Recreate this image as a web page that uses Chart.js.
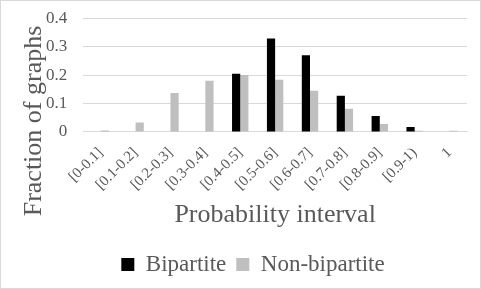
<!DOCTYPE html>
<html>
<head>
<meta charset="utf-8">
<script src="https://cdn.jsdelivr.net/npm/chart.js@4"></script>
<style>
  body { margin: 0; background: #fff; }
  #wrap { width: 479px; height: 287px; border: 1px solid #d9d9d9; }
</style>
</head>
<body>
<div id="wrap"><canvas id="chart"></canvas></div>
<script>
const intervals = ["[0-0.1]", "[0.1-0.2]", "[0.2-0.3]", "[0.3-0.4]", "[0.4-0.5]", "[0.5-0.6]", "[0.6-0.7]", "[0.7-0.8]", "[0.8-0.9]", "[0.9-1)", "1"];
const bipartite = [0, 0, 0, 0, 0.205, 0.329, 0.27, 0.127, 0.056, 0.017, 0];
const nonBipartite = [0.005, 0.033, 0.137, 0.18, 0.2, 0.184, 0.145, 0.082, 0.028, 0.004, 0.004];

const serif = "'Liberation Serif', 'Times New Roman', serif";
Chart.defaults.font.family = serif;

// y title sits lower than Chart.js would centre it
const yTitle = {
  id: "yTitle",
  afterDraw(chart) {
    const ctx = chart.ctx;
    ctx.save();
    ctx.translate(33, 120);
    ctx.rotate(-Math.PI / 2);
    ctx.font = "26px " + serif;
    ctx.fillStyle = "#595959";
    ctx.textAlign = "center";
    ctx.textBaseline = "middle";
    ctx.fillText("Fraction of graphs", 0, 0);
    ctx.restore();
  }
};

new Chart(document.getElementById("chart"), {
  type: "bar",
  data: {
    labels: intervals,
    datasets: [
      { label: "Bipartite", data: bipartite, backgroundColor: "#000000" },
      { label: "Non-bipartite", data: nonBipartite, backgroundColor: "#bfbfbf" }
    ]
  },
  options: {
    responsive: true,
    maintainAspectRatio: false,
    animation: false,
    categoryPercentage: 0.47,
    barPercentage: 1.0,
    layout: { padding: { left: 38, right: 13, top: 0, bottom: 2 } },
    plugins: {
      tooltip: { enabled: false },
      legend: {
        position: "bottom",
        labels: {
          font: { size: 23 },
          color: "#595959",
          boxWidth: 13,
          boxHeight: 13,
          padding: 10
        }
      }
    },
    scales: {
      x: {
        grid: { display: false },
        border: { color: "#d9d9d9" },
        ticks: {
          font: { size: 15 },
          color: "#595959",
          autoSkip: false,
          maxRotation: 45,
          minRotation: 45,
          padding: 4
        },
        title: {
          display: true,
          text: "Probability interval",
          font: { size: 26 },
          color: "#595959",
          padding: { top: 2, bottom: 12 }
        }
      },
      y: {
        min: 0,
        max: 0.4,
        grid: { color: "#d9d9d9", drawTicks: true, tickLength: 9, tickColor: "rgba(0,0,0,0)" },
        border: { display: false },
        ticks: {
          stepSize: 0.1,
          autoSkip: false,
          font: { size: 17 },
          color: "#595959",
          padding: 7
        }
      }
    }
  },
  plugins: [yTitle]
});
</script>
</body>
</html>
